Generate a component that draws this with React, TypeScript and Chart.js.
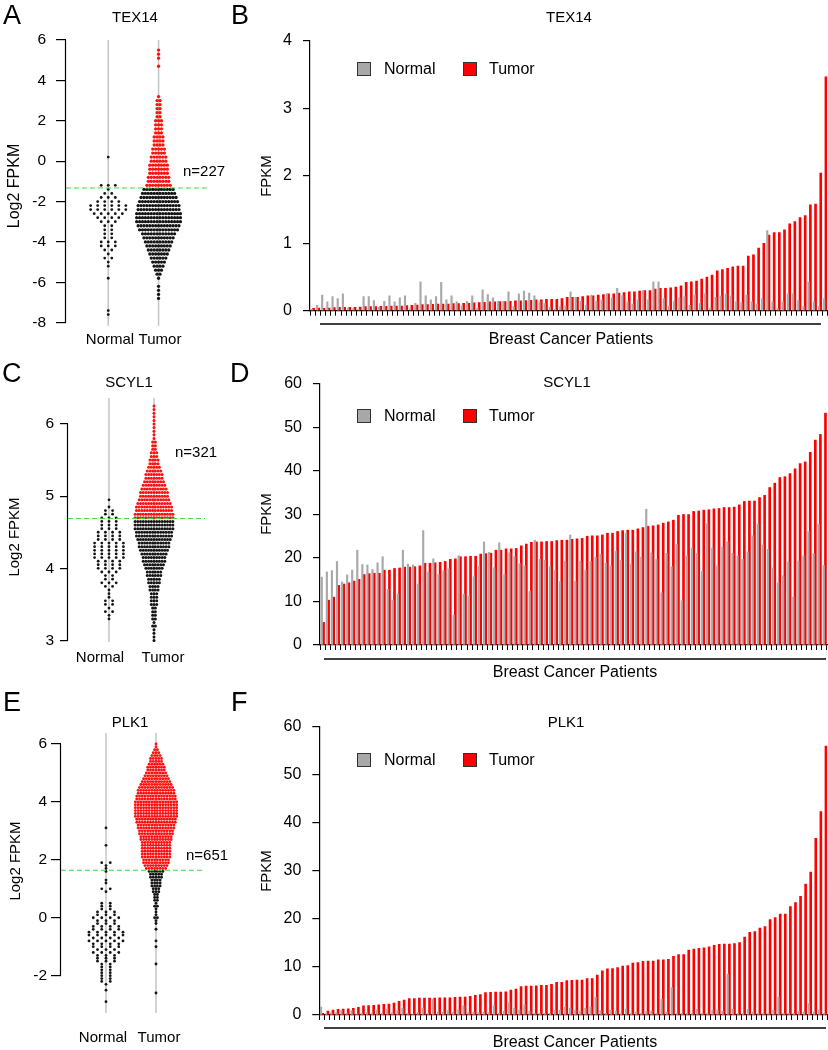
import React, { useEffect, useRef } from "react";
import { Chart, registerables } from "chart.js";

Chart.register(...registerables);

const FONT = "'Liberation Sans', Arial, Helvetica, sans-serif";

// ---------------- Bar chart data (100 paired patients, sorted by tumor FPKM) ----------------
const patients = Array.from({ length: 100 }, (_, i) => `P${i + 1}`);

const texTumor = [
  0.035, 0.04, 0.035, 0.04, 0.045, 0.05, 0.05, 0.05, 0.05, 0.055,
  0.06, 0.06, 0.06, 0.065, 0.065, 0.07, 0.07, 0.07, 0.075, 0.08,
  0.085, 0.09, 0.09, 0.095, 0.1, 0.1, 0.1, 0.105, 0.105, 0.11,
  0.11, 0.115, 0.12, 0.125, 0.13, 0.13, 0.135, 0.135, 0.14, 0.145,
  0.145, 0.15, 0.155, 0.16, 0.16, 0.17, 0.17, 0.17, 0.18, 0.2,
  0.2, 0.2, 0.21, 0.22, 0.22, 0.23, 0.24, 0.25, 0.25, 0.26,
  0.27, 0.28, 0.28, 0.29, 0.3, 0.3, 0.32, 0.33, 0.33, 0.34,
  0.35, 0.37, 0.42, 0.43, 0.44, 0.47, 0.5, 0.53, 0.59, 0.61,
  0.63, 0.65, 0.66, 0.66, 0.81, 0.83, 0.93, 1.0, 1.12, 1.16,
  1.16, 1.2, 1.29, 1.32, 1.38, 1.41, 1.57, 1.58, 2.04, 3.47,
];
const texNormal = [
  0.02, 0.08, 0.23, 0.13, 0.21, 0.18, 0.25, 0.03, 0.03, 0.02,
  0.21, 0.21, 0.15, 0.05, 0.14, 0.22, 0.13, 0.19, 0.22, 0.03,
  0.11, 0.43, 0.22, 0.16, 0.21, 0.42, 0.16, 0.22, 0.13, 0.07,
  0.14, 0.22, 0.04, 0.31, 0.24, 0.19, 0.14, 0.14, 0.28, 0.06,
  0.25, 0.29, 0.26, 0.22, 0.13, 0.11, 0.05, 0.02, 0.06, 0.07,
  0.28, 0.2, 0.14, 0.08, 0.23, 0.14, 0.16, 0.25, 0.19, 0.33,
  0.22, 0.13, 0.1, 0.16, 0.3, 0.16, 0.43, 0.43, 0.18, 0.07,
  0.14, 0.19, 0.21, 0.08, 0.23, 0.11, 0.25, 0.04, 0.2, 0.22,
  0.25, 0.22, 0.13, 0.12, 0.23, 0.13, 0.1, 0.18, 1.19, 0.13,
  0.03, 0.13, 0.25, 0.25, 0.15, 0.06, 0.43, 0.13, 0.06, 0.18,
];

const scylTumor = [
  5.2, 10.3, 11.0, 13.7, 14.0, 14.3, 14.7, 15.1, 16.2, 16.4,
  16.5, 16.5, 17.2, 17.2, 17.6, 17.7, 17.9, 17.9, 18.0, 18.2,
  18.8, 18.8, 18.9, 19.0, 19.2, 19.7, 19.8, 20.3, 20.3, 20.4,
  20.4, 20.9, 21.0, 21.1, 21.8, 21.8, 22.1, 22.1, 22.2, 22.8,
  23.2, 23.6, 23.7, 23.7, 23.8, 23.8, 24.0, 24.1, 24.1, 24.3,
  24.4, 24.5, 25.0, 25.1, 25.1, 25.3, 25.7, 25.7, 26.1, 26.3,
  26.4, 26.4, 26.7, 27.0, 27.3, 27.4, 27.6, 28.0, 28.3, 28.7,
  29.8, 30.0, 30.0, 30.7, 30.8, 31.0, 31.1, 31.3, 31.4, 31.6,
  31.6, 31.7, 32.2, 33.0, 33.1, 33.1, 33.9, 34.4, 36.2, 37.2,
  38.5, 38.7, 39.4, 40.5, 41.7, 42.1, 44.3, 47.1, 48.4, 53.3,
];
const scylNormal = [
  15.6, 16.8, 17.1, 19.2, 14.5, 16.1, 17.2, 21.8, 18.5, 18.4,
  17.4, 18.9, 20.3, 12.8, 10.3, 11.7, 21.8, 18.6, 18.4, 14.0,
  26.3, 16.8, 19.8, 16.2, 17.1, 17.5, 6.9, 20.5, 11.7, 11.3,
  15.7, 18.1, 23.7, 21.3, 17.8, 23.5, 16.2, 21.2, 20.3, 18.7,
  18.2, 12.3, 24.1, 19.7, 19.5, 18.0, 17.1, 14.6, 19.3, 25.3,
  14.6, 19.3, 17.2, 19.2, 20.2, 20.9, 18.8, 18.2, 21.6, 19.5,
  25.6, 18.6, 21.4, 20.2, 31.2, 21.2, 19.7, 12.0, 21.1, 18.0,
  23.1, 10.2, 20.5, 22.3, 21.1, 16.9, 27.9, 22.3, 18.2, 22.5,
  23.7, 21.1, 20.5, 19.7, 21.4, 25.1, 27.8, 23.0, 22.0, 17.7,
  14.3, 15.9, 19.1, 11.0, 19.3, 20.5, 26.1, 21.0, 27.8, 18.3,
];

const plkTumor = [
  0.35, 0.8, 1.0, 1.2, 1.25, 1.3, 1.4, 1.6, 1.9, 1.95,
  2.0, 2.1, 2.2, 2.3, 2.5, 2.85, 3.1, 3.4, 3.4, 3.5,
  3.5, 3.55, 3.55, 3.6, 3.6, 3.6, 3.7, 3.75, 3.75, 3.9,
  4.1, 4.25, 4.65, 4.7, 4.8, 4.8, 4.85, 5.2, 5.4, 5.9,
  6.05, 6.05, 6.1, 6.2, 6.2, 6.4, 6.8, 6.8, 7.15, 7.2,
  7.3, 7.3, 7.6, 7.6, 8.3, 9.2, 9.6, 9.65, 9.9, 10.2,
  10.3, 10.8, 10.9, 11.2, 11.25, 11.25, 11.5, 11.5, 11.6, 12.2,
  12.6, 12.6, 13.5, 13.75, 13.9, 14.0, 14.2, 14.5, 14.7, 14.8,
  14.8, 14.9, 15.1, 16.25, 17.2, 17.4, 18.1, 18.4, 19.9, 20.3,
  21.0, 21.0, 22.6, 23.4, 24.7, 27.3, 29.8, 36.8, 42.4, 56.0,
];
const plkNormal = [
  1.65, 0.3, 0.5, 0.5, 0.9, 0.35, 0.9, 0.2, 0.35, 0.5,
  0.35, 1.0, 0.35, 1.25, 0.5, 0.9, 1.4, 0.35, 0.2, 0.5,
  1.45, 0.35, 3.25, 0.6, 0.6, 0.9, 0.5, 1.1, 1.9, 0.6,
  0.6, 0.5, 0.6, 0.5, 1.9, 0.35, 0.8, 2.6, 1.4, 1.0,
  2.1, 0.8, 0.35, 0.35, 0.35, 0.35, 1.0, 1.0, 1.6, 1.45,
  1.0, 0.8, 1.4, 1.65, 3.75, 0.9, 0.35, 1.0, 0.8, 0.35,
  1.25, 0.35, 0.6, 0.35, 0.7, 0.8, 0.35, 3.3, 0.6, 5.7,
  0.35, 0.35, 0.35, 0.35, 1.2, 0.35, 0.35, 1.0, 1.0, 0.8,
  8.5, 1.25, 0.35, 0.35, 1.2, 0.6, 0.35, 0.35, 0.35, 1.0,
  3.75, 0.35, 0.35, 0.35, 0.8, 0.6, 2.4, 0.6, 1.0, 0.35,
];

const texBarTicks = [0, 1, 2, 3, 4];
const fpkmTicks = [0, 10, 20, 30, 40, 50, 60];

// ---------------- Beeswarm data (log2 FPKM level -> number of samples in that row) ----------------
const texNormalLevels = [0.2, -1.2, -1.4, -1.6, -1.8, -2.0, -2.2, -2.4, -2.6, -2.8, -3.0, -3.2, -3.4, -3.6, -3.8, -4.0, -4.2, -4.4, -4.6, -4.8, -5.0, -5.2, -5.8, -7.4, -7.6];
const texNormalCounts = [1, 3, 1, 2, 3, 4, 6, 6, 5, 4, 3, 2, 2, 2, 2, 3, 3, 2, 1, 2, 1, 1, 1, 1, 1];
const texTumorLevels = [5.5, 5.3, 5.1, 4.7, 3.2, 3.0, 2.8, 2.6, 2.4, 2.2, 2.0, 1.8, 1.6, 1.4, 1.2, 1.0, 0.8, 0.6, 0.4, 0.2, 0.0, -0.2, -0.4, -0.6, -0.8, -1.0, -1.2, -1.4, -1.6, -1.8, -2.0, -2.2, -2.4, -2.6, -2.8, -3.0, -3.2, -3.4, -3.6, -3.8, -4.0, -4.2, -4.4, -4.6, -4.8, -5.0, -5.2, -5.4, -5.6, -5.8, -6.2, -6.4, -6.6, -6.8];
const texTumorCounts = [1, 1, 1, 1, 1, 2, 2, 2, 2, 2, 3, 3, 3, 3, 4, 4, 4, 5, 5, 6, 6, 7, 7, 7, 8, 8, 9, 11, 12, 13, 14, 15, 15, 16, 16, 16, 15, 14, 12, 11, 10, 9, 8, 7, 6, 5, 4, 3, 2, 1, 1, 1, 1, 1];
const texThreshold = -1.33;
const texSwarmTicks = [-8, -6, -4, -2, 0, 2, 4, 6];

const scylNormalLevels = [4.95, 4.85, 4.8, 4.75, 4.7, 4.65, 4.6, 4.55, 4.5, 4.45, 4.4, 4.35, 4.3, 4.25, 4.2, 4.15, 4.1, 4.05, 4.0, 3.95, 3.9, 3.85, 3.8, 3.75, 3.7, 3.65, 3.6, 3.55, 3.5, 3.45, 3.4, 3.35, 3.3];
const scylNormalCounts = [1, 1, 2, 2, 3, 3, 3, 3, 4, 4, 4, 5, 5, 5, 5, 5, 4, 4, 4, 3, 2, 2, 3, 2, 1, 1, 1, 2, 2, 1, 2, 1, 1];
const scylTumorLevels = [6.25, 6.2, 6.15, 6.1, 6.05, 6.0, 5.95, 5.9, 5.85, 5.8, 5.75, 5.7, 5.65, 5.6, 5.55, 5.5, 5.45, 5.4, 5.35, 5.3, 5.25, 5.2, 5.15, 5.1, 5.05, 5.0, 4.95, 4.9, 4.85, 4.8, 4.75, 4.7, 4.65, 4.6, 4.55, 4.5, 4.45, 4.4, 4.35, 4.3, 4.25, 4.2, 4.15, 4.1, 4.05, 4.0, 3.95, 3.9, 3.85, 3.8, 3.75, 3.7, 3.65, 3.6, 3.55, 3.5, 3.45, 3.4, 3.35, 3.3, 3.25, 3.2, 3.15, 3.1, 3.05, 3.0];
const scylTumorCounts = [1, 1, 1, 1, 1, 1, 1, 1, 1, 1, 2, 2, 2, 3, 3, 4, 4, 5, 6, 7, 7, 8, 9, 10, 11, 11, 12, 13, 14, 14, 15, 15, 15, 15, 15, 14, 14, 13, 12, 12, 11, 10, 9, 9, 8, 7, 6, 6, 5, 5, 4, 4, 3, 3, 3, 3, 2, 2, 2, 2, 1, 2, 1, 1, 1, 1];
const scylThreshold = 4.69;
const scylSwarmTicks = [3, 4, 5, 6];

const plkNormalLevels = [3.1, 2.5, 1.9, 1.8, 1.7, 1.6, 1.3, 1.2, 1.0, 0.9, 0.5, 0.4, 0.3, 0.2, 0.1, 0.0, -0.1, -0.2, -0.3, -0.4, -0.5, -0.6, -0.7, -0.8, -0.9, -1.0, -1.1, -1.2, -1.3, -1.4, -1.5, -1.6, -1.7, -1.8, -1.9, -2.0, -2.1, -2.2, -2.3, -2.5, -2.9];
const plkNormalCounts = [1, 1, 2, 1, 1, 1, 1, 1, 2, 1, 2, 2, 2, 3, 3, 4, 3, 3, 4, 4, 5, 5, 4, 5, 4, 4, 3, 4, 3, 3, 3, 2, 2, 2, 2, 2, 2, 2, 1, 1, 1];
const plkTumorLevels = [6.0, 5.9, 5.8, 5.7, 5.6, 5.5, 5.4, 5.3, 5.2, 5.1, 5.0, 4.9, 4.8, 4.7, 4.6, 4.5, 4.4, 4.3, 4.2, 4.1, 4.0, 3.9, 3.8, 3.7, 3.6, 3.5, 3.4, 3.3, 3.2, 3.1, 3.0, 2.9, 2.8, 2.7, 2.6, 2.5, 2.4, 2.3, 2.2, 2.1, 2.0, 1.9, 1.8, 1.7, 1.6, 1.5, 1.4, 1.3, 1.2, 1.1, 1.0, 0.9, 0.8, 0.7, 0.6, 0.5, 0.4, 0.3, 0.2, 0.1, 0.0, -0.1, -0.2, -0.4, -0.8, -1.0, -1.6, -2.6];
const plkTumorCounts = [1, 1, 2, 3, 4, 5, 5, 6, 7, 7, 8, 9, 10, 11, 12, 13, 14, 14, 15, 15, 16, 16, 16, 16, 16, 16, 15, 15, 14, 14, 13, 13, 12, 12, 11, 11, 11, 11, 11, 11, 10, 10, 9, 8, 6, 5, 5, 4, 4, 4, 3, 3, 2, 2, 2, 1, 2, 1, 1, 1, 2, 1, 1, 1, 1, 1, 1, 1];
const plkThreshold = 1.64;
const plkSwarmTicks = [-2, 0, 2, 4, 6];

const groupLabels = ["Normal", "Tumor"];

// ---------------- helpers ----------------
type Txt = { t: string; x: number; y: number; align?: CanvasTextAlign; size?: number; rot?: boolean };
type Decor = {
  texts: Txt[];
  vlines?: number[];
  axisTicks?: number[];
  legendY?: number;
  bracket?: { x1: number; x2: number; y: number };
};

function decorPlugin(d: Decor) {
  return {
    id: "decor",
    beforeDatasetsDraw(chart: any) {
      const ctx = chart.ctx as CanvasRenderingContext2D;
      const { top, bottom } = chart.chartArea;
      if (d.vlines) {
        ctx.save();
        ctx.strokeStyle = "#c4c4c4";
        ctx.lineWidth = 1.5;
        for (const v of d.vlines) {
          const px = chart.scales.x.getPixelForValue(v);
          ctx.beginPath();
          ctx.moveTo(px, top);
          ctx.lineTo(px, bottom);
          ctx.stroke();
        }
        ctx.restore();
      }
    },
    afterDraw(chart: any) {
      const ctx = chart.ctx as CanvasRenderingContext2D;
      ctx.save();
      if (d.axisTicks) {
        const ys = chart.scales.y;
        const x = Math.round(chart.chartArea.left) - 0.5;
        const a = ys.getPixelForValue(Math.max(...d.axisTicks));
        const b = ys.getPixelForValue(Math.min(...d.axisTicks));
        ctx.strokeStyle = "#000";
        ctx.lineWidth = 1.2;
        ctx.beginPath();
        ctx.moveTo(x, a);
        ctx.lineTo(x, b);
        ctx.stroke();
      }
      if (d.legendY !== undefined) {
        const y = d.legendY;
        ctx.lineWidth = 1;
        ctx.strokeStyle = "#333";
        ctx.fillStyle = "#a8a8a8";
        ctx.fillRect(112, y - 7, 14, 14);
        ctx.strokeRect(112.5, y - 6.5, 13, 13);
        ctx.fillStyle = "#ff0000";
        ctx.fillRect(218, y - 7, 14, 14);
        ctx.strokeRect(218.5, y - 6.5, 13, 13);
        ctx.fillStyle = "#000";
        ctx.font = `16px ${FONT}`;
        ctx.textAlign = "left";
        ctx.textBaseline = "middle";
        ctx.fillText("Normal", 139, y + 1);
        ctx.fillText("Tumor", 244, y + 1);
      }
      if (d.bracket) {
        ctx.strokeStyle = "#000";
        ctx.lineWidth = 1.3;
        ctx.beginPath();
        ctx.moveTo(d.bracket.x1, d.bracket.y);
        ctx.lineTo(d.bracket.x2, d.bracket.y);
        ctx.stroke();
      }
      ctx.fillStyle = "#000";
      ctx.textBaseline = "middle";
      for (const t of d.texts) {
        ctx.font = `${t.size ?? 15}px ${FONT}`;
        ctx.textAlign = t.align ?? "center";
        if (t.rot) {
          ctx.save();
          ctx.translate(t.x, t.y);
          ctx.rotate(-Math.PI / 2);
          ctx.fillText(t.t, 0, 0);
          ctx.restore();
        } else {
          ctx.fillText(t.t, t.x, t.y);
        }
      }
      ctx.restore();
    },
  };
}

function swarm(levels: number[], counts: number[], center: number, step: number) {
  const pts: { x: number; y: number }[] = [];
  levels.forEach((y, i) => {
    const k = counts[i];
    for (let j = 0; j < k; j++) pts.push({ x: center + (j - (k - 1) / 2) * step, y });
  });
  return pts;
}

type SwarmCfg = {
  yMin: number; yMax: number; yTicks: number[];
  xMin: number; xMax: number; threshold: number; greenEnd: number;
  nLevels: number[]; nCounts: number[]; nStep: number;
  tLevels: number[]; tCounts: number[]; tStep: number;
  axisWidth: number; pad: { top: number; bottom: number; right: number };
  radius: number; tickLength: number; tickPad: number;
  texts: Txt[];
};

function swarmConfig(c: SwarmCfg): any {
  const normalPts = swarm(c.nLevels, c.nCounts, 1, c.nStep);
  const tumorPts = swarm(c.tLevels, c.tCounts, 2, c.tStep);
  const red = tumorPts.filter((p) => p.y > c.threshold);
  const black = tumorPts.filter((p) => p.y <= c.threshold);
  const dot = { pointRadius: c.radius, borderWidth: 0, pointHoverRadius: 0 };
  return {
    type: "scatter",
    data: {
      datasets: [
        {
          type: "line",
          data: [{ x: c.xMin, y: c.threshold }, { x: c.greenEnd, y: c.threshold }],
          borderColor: "#3fd83f",
          borderWidth: 1,
          borderDash: [5, 3],
          pointRadius: 0,
          showLine: true,
          fill: false,
        },
        { data: red, backgroundColor: "#ff1010", ...dot },
        { data: black, backgroundColor: "#151515", ...dot },
        { data: normalPts, backgroundColor: "#151515", pointRadius: 1.4, borderWidth: 0, pointHoverRadius: 0 },
      ],
    },
    options: {
      animation: false,
      responsive: false,
      events: [],
      layout: { padding: { top: c.pad.top, bottom: c.pad.bottom, left: 0, right: c.pad.right } },
      plugins: { legend: { display: false }, tooltip: { enabled: false }, title: { display: false } },
      scales: {
        x: { type: "linear", min: c.xMin, max: c.xMax, display: false },
        y: {
          type: "linear",
          min: c.yMin,
          max: c.yMax,
          afterFit: (s: any) => { s.width = c.axisWidth; },
          afterBuildTicks: (s: any) => { s.ticks = c.yTicks.map((v) => ({ value: v })); },
          grid: { drawOnChartArea: false, drawTicks: true, tickLength: c.tickLength, color: "#000", lineWidth: 1.2 },
          border: { display: false },
          ticks: { color: "#000", font: { family: FONT, size: 15.5 }, padding: c.tickPad, callback: (v: any) => String(v) },
        },
      },
    },
    plugins: [decorPlugin({ texts: c.texts, vlines: [1, 2], axisTicks: c.yTicks })],
  };
}

type BarCfg = {
  tumor: number[]; normal: number[]; yMax: number; yTicks: number[];
  axisWidth: number; xHeight: number; pad: { top: number; right: number };
  decor: Decor;
};

function barConfig(c: BarCfg): any {
  return {
    type: "bar",
    data: {
      labels: patients,
      datasets: [
        { label: "Normal", data: c.normal, backgroundColor: "#a9a9a9", barThickness: 1.5, borderWidth: 0 },
        { label: "Tumor", data: c.tumor, backgroundColor: "#ff0000", barThickness: 2, borderWidth: 0 },
      ],
    },
    options: {
      animation: false,
      responsive: false,
      events: [],
      layout: { padding: { top: c.pad.top, right: c.pad.right, left: 0, bottom: 0 } },
      plugins: { legend: { display: false }, tooltip: { enabled: false }, title: { display: false } },
      scales: {
        x: {
          type: "category",
          afterFit: (s: any) => { s.height = c.xHeight; },
          grid: { display: true, drawOnChartArea: false, drawTicks: true, tickLength: 5, color: "#000", offset: true, lineWidth: 1 },
          border: { display: true, color: "#000", width: 1.2 },
          ticks: { display: false, autoSkip: false },
        },
        y: {
          type: "linear",
          min: 0,
          max: c.yMax,
          afterFit: (s: any) => { s.width = c.axisWidth; },
          afterBuildTicks: (s: any) => { s.ticks = c.yTicks.map((v) => ({ value: v })); },
          grid: { drawOnChartArea: false, drawTicks: true, tickLength: 7, color: "#000", lineWidth: 1.2 },
          border: { display: true, color: "#000", width: 1.2 },
          ticks: { color: "#000", font: { family: FONT, size: 16 }, padding: 11, callback: (v: any) => String(v) },
        },
      },
    },
    plugins: [decorPlugin(c.decor)],
  };
}

function ChartCanvas(props: { left: number; top: number; width: number; height: number; make: () => any }) {
  const ref = useRef<HTMLCanvasElement>(null);
  useEffect(() => {
    if (!ref.current) return;
    const chart = new Chart(ref.current, props.make());
    return () => chart.destroy();
  }, []);
  return (
    <canvas
      ref={ref}
      width={props.width}
      height={props.height}
      style={{ position: "absolute", left: props.left, top: props.top, width: props.width, height: props.height }}
    />
  );
}

const letterStyle = (left: number, top: number): React.CSSProperties => ({
  position: "absolute",
  left,
  top,
  fontFamily: FONT,
  fontSize: 27,
  lineHeight: "27px",
  color: "#000",
});

export default function App() {
  const swarmA = () =>
    swarmConfig({
      yMin: -8.15, yMax: 6, yTicks: texSwarmTicks,
      xMin: 0.16, xMax: 3.52, threshold: texThreshold, greenEnd: 2.98,
      nLevels: texNormalLevels, nCounts: texNormalCounts, nStep: 0.14,
      tLevels: texTumorLevels, tCounts: texTumorCounts, tStep: 0.058,
      axisWidth: 66, pad: { top: 40, bottom: 17, right: 5 }, radius: 1.65,
      tickLength: 10, tickPad: 10,
      texts: [
        { t: "TEX14", x: 135, y: 18 },
        { t: "Log2 FPKM", x: 15, y: 186, rot: true, size: 16 },
        { t: "n=227", x: 183, y: 172, align: "left" },
        { t: groupLabels[0], x: 110, y: 340 },
        { t: groupLabels[1], x: 160, y: 340 },
      ],
    });
  const swarmC = () =>
    swarmConfig({
      yMin: 2.98, yMax: 6.36, yTicks: scylSwarmTicks,
      xMin: 0.089, xMax: 3.8, threshold: scylThreshold, greenEnd: 3.133,
      nLevels: scylNormalLevels, nCounts: scylNormalCounts, nStep: 0.16,
      tLevels: scylTumorLevels, tCounts: scylTumorCounts, tStep: 0.06,
      axisWidth: 68, pad: { top: 53, bottom: 48, right: 5 }, radius: 1.5,
      tickLength: 8, tickPad: 6,
      texts: [
        { t: "SCYL1", x: 129, y: 38 },
        { t: "Log2 FPKM", x: 15, y: 192, rot: true },
        { t: "n=321", x: 175, y: 108, align: "left" },
        { t: groupLabels[0], x: 100, y: 313 },
        { t: groupLabels[1], x: 163, y: 313 },
      ],
    });
  const swarmE = () =>
    swarmConfig({
      yMin: -3.29, yMax: 6.38, yTicks: plkSwarmTicks,
      xMin: 0.1, xMax: 3.58, threshold: plkThreshold, greenEnd: 2.96,
      nLevels: plkNormalLevels, nCounts: plkNormalCounts, nStep: 0.17,
      tLevels: plkTumorLevels, tCounts: plkTumorCounts, tStep: 0.055,
      axisWidth: 61, pad: { top: 43, bottom: 37, right: 5 }, radius: 1.45,
      tickLength: 10, tickPad: 4,
      texts: [
        { t: "PLK1", x: 130, y: 33 },
        { t: "Log2 FPKM", x: 16, y: 171, rot: true },
        { t: "n=651", x: 186, y: 166, align: "left" },
        { t: groupLabels[0], x: 103, y: 348 },
        { t: groupLabels[1], x: 159, y: 348 },
      ],
    });

  const barB = () =>
    barConfig({
      tumor: texTumor, normal: texNormal, yMax: 4, yTicks: texBarTicks,
      axisWidth: 65, xHeight: 34.3, pad: { top: 41, right: 0.5 },
      decor: {
        texts: [
          { t: "TEX14", x: 324, y: 18 },
          { t: "FPKM", x: 22, y: 176, rot: true },
          { t: "Breast Cancer Patients", x: 326, y: 340, size: 16 },
        ],
        legendY: 69,
        bracket: { x1: 75, x2: 576, y: 324 },
      },
    });
  const barD = () =>
    barConfig({
      tumor: scylTumor, normal: scylNormal, yMax: 60, yTicks: fpkmTicks,
      axisWidth: 75, xHeight: 45, pad: { top: 39, right: 1 },
      decor: {
        texts: [
          { t: "SCYL1", x: 322, y: 38 },
          { t: "FPKM", x: 22, y: 169, rot: true },
          { t: "Breast Cancer Patients", x: 330, y: 328, size: 16 },
        ],
        legendY: 71,
        bracket: { x1: 79, x2: 581, y: 314 },
      },
    });
  const barF = () =>
    barConfig({
      tumor: plkTumor, normal: plkNormal, yMax: 60, yTicks: fpkmTicks,
      axisWidth: 74.3, xHeight: 35, pad: { top: 37, right: 0.5 },
      decor: {
        texts: [
          { t: "PLK1", x: 321, y: 33 },
          { t: "FPKM", x: 22, y: 181, rot: true },
          { t: "Breast Cancer Patients", x: 330, y: 353, size: 16 },
        ],
        legendY: 70,
        bracket: { x1: 79, x2: 581, y: 338 },
      },
    });

  return (
    <div style={{ position: "absolute", left: 0, top: 0, width: 828, height: 1050, background: "#fff", overflow: "hidden" }}>
      <ChartCanvas left={0} top={0} width={240} height={345} make={swarmA} />
      <ChartCanvas left={0} top={345} width={240} height={345} make={swarmC} />
      <ChartCanvas left={0} top={690} width={240} height={360} make={swarmE} />
      <ChartCanvas left={245} top={0} width={583} height={345} make={barB} />
      <ChartCanvas left={245} top={345} width={583} height={345} make={barD} />
      <ChartCanvas left={245} top={690} width={583} height={360} make={barF} />
      <div style={letterStyle(3, 1.5)}>A</div>
      <div style={letterStyle(231, 1.5)}>B</div>
      <div style={letterStyle(2, 359.5)}>C</div>
      <div style={letterStyle(230, 359.5)}>D</div>
      <div style={letterStyle(3, 688.5)}>E</div>
      <div style={letterStyle(231, 688.5)}>F</div>
    </div>
  );
}
